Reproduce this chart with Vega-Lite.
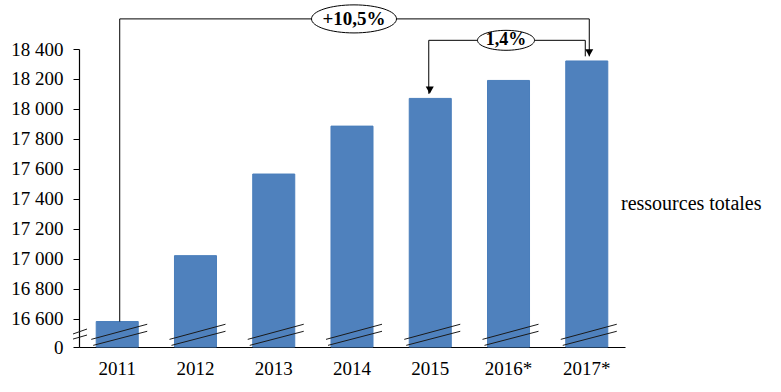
{
  "$schema": "https://vega.github.io/schema/vega-lite/v6.json",
  "autosize": "none",
  "width": 546,
  "height": 298,
  "padding": {"left": 79, "top": 49, "right": 156, "bottom": 45},
  "background": "white",
  "resolve": {"axis": {"y": "independent"}},
  "config": {
    "font": "Liberation Serif",
    "view": {"stroke": null},
    "axis": {"grid": false, "labelFont": "Liberation Serif", "labelFontSize": 19, "labelColor": "#000000", "domainColor": "#000000", "tickColor": "#000000", "title": null, "labelOverlap": false},
    "legend": {"labelFont": "Liberation Serif", "labelFontSize": 20}
  },
  "datasets": {
    "barres": [
      {"annee": "2011", "valeur": 16580, "serie": "ressources totales"},
      {"annee": "2012", "valeur": 17020, "serie": "ressources totales"},
      {"annee": "2013", "valeur": 17565, "serie": "ressources totales"},
      {"annee": "2014", "valeur": 17885, "serie": "ressources totales"},
      {"annee": "2015", "valeur": 18070, "serie": "ressources totales"},
      {"annee": "2016*", "valeur": 18190, "serie": "ressources totales"},
      {"annee": "2017*", "valeur": 18320, "serie": "ressources totales"}
    ],
    "fleches": [
      {"conn": "a", "annee": "2011", "valeur": 16580, "ordre": 1},
      {"conn": "a", "annee": "2011", "valeur": 18601, "ordre": 2},
      {"conn": "a", "annee": "2017*", "valeur": 18601, "ordre": 3},
      {"conn": "a", "annee": "2017*", "valeur": 18351, "ordre": 4},
      {"conn": "b", "annee": "2015", "valeur": 18101, "ordre": 1},
      {"conn": "b", "annee": "2015", "valeur": 18458, "ordre": 2},
      {"conn": "b", "annee": "2017*", "valeur": 18458, "ordre": 3},
      {"conn": "b", "annee": "2017*", "valeur": 18351, "ordre": 4}
    ],
    "pointes": [
      {"conn": "a", "annee": "2017*", "valeur": 18351},
      {"conn": "b", "annee": "2015", "valeur": 18101}
    ],
    "etiquettes": [
      {"conn": "a", "annee": "2014", "valeur": 18601, "texte": "+10,5%"},
      {"conn": "b", "annee": "2016*", "valeur": 18458, "texte": "1,4%"}
    ]
  },
  "encoding": {
    "x": {
      "field": "annee", "type": "nominal", "sort": null,
      "scale": {"domain": ["2011", "2012", "2013", "2014", "2015", "2016*", "2017*"], "paddingInner": 0.463, "paddingOuter": 0.22},
      "axis": {"labelAngle": 0, "ticks": false, "labelPadding": 12, "domainWidth": 1.2, "labelFont": "Liberation Serif", "labelFontSize": 19, "labelColor": "#000000", "labelOverlap": false}
    }
  },
  "layer": [
    {
      "data": {"name": "barres"},
      "mark": {"type": "bar", "stroke": "#4A7EBB", "strokeWidth": 1},
      "encoding": {
        "y": {
          "field": "valeur", "type": "quantitative",
          "scale": {"domain": [16410, 18400], "zero": false, "nice": false},
          "axis": {
            "values": [16410, 16600, 16800, 17000, 17200, 17400, 17600, 17800, 18000, 18200, 18400],
            "labelExpr": "datum.value < 16500 ? '0' : replace(format(datum.value, ','), ',', ' ')",
            "tickSize": 6, "labelPadding": 10, "domainWidth": 1.2,
            "labelFont": "Liberation Serif", "labelFontSize": 19, "labelColor": "#000000", "labelOverlap": false, "labelBound": false
          }
        },
        "y2": {"datum": 16410},
        "color": {
          "field": "serie", "type": "nominal",
          "scale": {"range": ["#4F81BD"]},
          "legend": {
            "orient": "none", "legendX": 522, "legendY": 145, "title": null,
            "labelFont": "Liberation Serif", "labelFontSize": 20, "labelColor": "#000000",
            "symbolOpacity": 0, "symbolSize": 0, "symbolStrokeWidth": 0, "labelOffset": 0, "padding": 0
          }
        }
      }
    },
    {
      "data": {"name": "barres"},
      "mark": {"type": "rule", "color": "#1a1a1a", "strokeWidth": 1, "xOffset": -26, "x2Offset": 30},
      "encoding": {
        "x2": {"field": "annee"},
        "y": {"datum": 16461, "type": "quantitative", "axis": null},
        "y2": {"datum": 16562}
      }
    },
    {
      "data": {"name": "barres"},
      "mark": {"type": "rule", "color": "#1a1a1a", "strokeWidth": 1, "xOffset": -24, "x2Offset": 30},
      "encoding": {
        "x2": {"field": "annee"},
        "y": {"datum": 16421, "type": "quantitative", "axis": null},
        "y2": {"datum": 16515}
      }
    },
    {
      "data": {"name": "barres"},
      "transform": [{"filter": "datum.annee == '2011'"}],
      "mark": {"type": "rule", "color": "#1a1a1a", "strokeWidth": 1, "xOffset": -44.2, "x2Offset": -30.2},
      "encoding": {
        "x2": {"field": "annee"},
        "y": {"datum": 16497, "type": "quantitative", "axis": null},
        "y2": {"datum": 16530}
      }
    },
    {
      "data": {"name": "barres"},
      "transform": [{"filter": "datum.annee == '2011'"}],
      "mark": {"type": "rule", "color": "#1a1a1a", "strokeWidth": 1, "xOffset": -44.2, "x2Offset": -30.2},
      "encoding": {
        "x2": {"field": "annee"},
        "y": {"datum": 16463, "type": "quantitative", "axis": null},
        "y2": {"datum": 16490}
      }
    },
    {
      "data": {"name": "fleches"},
      "transform": [{"filter": "datum.conn == 'a'"}],
      "mark": {"type": "line", "color": "#000000", "strokeWidth": 1, "xOffset": 2.5},
      "encoding": {
        "y": {"field": "valeur", "type": "quantitative", "axis": null},
        "order": {"field": "ordre"}
      }
    },
    {
      "data": {"name": "fleches"},
      "transform": [{"filter": "datum.conn == 'b'"}],
      "mark": {"type": "line", "color": "#000000", "strokeWidth": 1, "xOffset": -1.5},
      "encoding": {
        "y": {"field": "valeur", "type": "quantitative", "axis": null},
        "order": {"field": "ordre"}
      }
    },
    {
      "data": {"name": "pointes"},
      "transform": [{"filter": "datum.conn == 'a'"}],
      "mark": {"type": "point", "shape": "M-1,-1.8L1,-1.8L0,0Z", "size": 64, "filled": true, "color": "#000000", "opacity": 1, "xOffset": 2.5},
      "encoding": {"y": {"field": "valeur", "type": "quantitative", "axis": null}}
    },
    {
      "data": {"name": "pointes"},
      "transform": [{"filter": "datum.conn == 'b'"}],
      "mark": {"type": "point", "shape": "M-1,-1.8L1,-1.8L0,0Z", "size": 64, "filled": true, "color": "#000000", "opacity": 1, "xOffset": -0.5},
      "encoding": {"y": {"field": "valeur", "type": "quantitative", "axis": null}}
    },
    {
      "data": {"name": "etiquettes"},
      "transform": [{"filter": "datum.conn == 'a'"}],
      "mark": {"type": "point", "shape": "M-1,0A1,0.33 0 1,0 1,0A1,0.33 0 1,0 -1,0Z", "size": 7225, "filled": false, "fill": "#ffffff", "fillOpacity": 1, "stroke": "#000000", "strokeWidth": 1, "opacity": 1, "xOffset": 2},
      "encoding": {"y": {"field": "valeur", "type": "quantitative", "axis": null}}
    },
    {
      "data": {"name": "etiquettes"},
      "transform": [{"filter": "datum.conn == 'b'"}],
      "mark": {"type": "point", "shape": "M-1,0A1,0.35 0 1,0 1,0A1,0.35 0 1,0 -1,0Z", "size": 3249, "filled": false, "fill": "#ffffff", "fillOpacity": 1, "stroke": "#000000", "strokeWidth": 1, "opacity": 1, "xOffset": -2.5},
      "encoding": {"y": {"field": "valeur", "type": "quantitative", "axis": null}}
    },
    {
      "data": {"name": "etiquettes"},
      "transform": [{"filter": "datum.conn == 'a'"}],
      "mark": {"type": "text", "font": "Liberation Serif", "fontSize": 19, "fontWeight": "bold", "color": "#000000", "align": "center", "baseline": "middle", "xOffset": 2},
      "encoding": {"y": {"field": "valeur", "type": "quantitative", "axis": null}, "text": {"field": "texte"}}
    },
    {
      "data": {"name": "etiquettes"},
      "transform": [{"filter": "datum.conn == 'b'"}],
      "mark": {"type": "text", "font": "Liberation Serif", "fontSize": 18, "fontWeight": "bold", "color": "#000000", "align": "center", "baseline": "middle", "xOffset": -2.5},
      "encoding": {"y": {"field": "valeur", "type": "quantitative", "axis": null}, "text": {"field": "texte"}}
    }
  ]
}
